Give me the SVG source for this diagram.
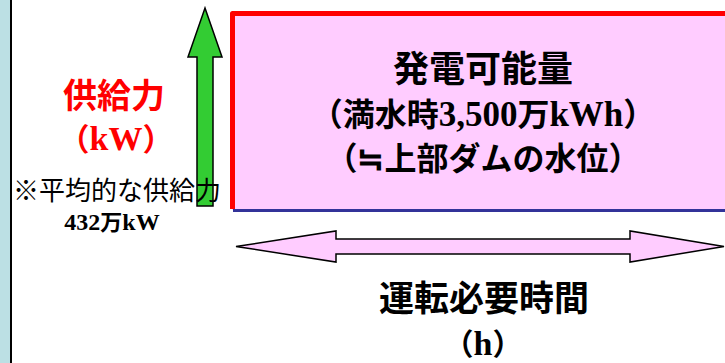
<svg xmlns="http://www.w3.org/2000/svg" width="725" height="363" viewBox="0 0 725 363">
<style>
.g{font-family:"Noto Sans CJK JP","Noto Sans",sans-serif;font-weight:bold}
.s{font-family:"Liberation Serif","Noto Sans CJK JP",serif;font-weight:bold}
.n{font-family:"Noto Sans CJK JP","Noto Sans",sans-serif;font-weight:normal}
.arr{stroke:#000;stroke-width:1.5;stroke-linejoin:miter}
</style>
<rect x="0" y="0" width="725" height="363" fill="#fff"/>
<g id="sidebar">
<rect x="0" y="0" width="10" height="363" fill="#BCE0E4"/>
<line x1="11" y1="0" x2="11" y2="363" stroke="#000" stroke-width="2"/>
</g>
<g id="energy-box">
<rect x="232" y="13" width="500" height="197" fill="#FFCCFF"/>
<path d="M232.5,209 V13.5 H740" fill="none" stroke="#FF0000" stroke-width="5" stroke-linejoin="round"/>
<line x1="233" y1="210.5" x2="725" y2="210.5" stroke="#333399" stroke-width="3"/>
<text class="g" x="483" y="82" font-size="36" text-anchor="middle" fill="#000">発電可能量</text>
<text class="g" x="483" y="126" font-size="32" text-anchor="middle" fill="#000">（満水時<tspan class="s" font-size="35">3,500</tspan>万<tspan class="s" font-size="35">kWh</tspan>）</text>
<text class="g" x="483" y="170" font-size="32" text-anchor="middle" fill="#000">（≒上部ダムの水位）</text>
</g>
<g id="connectors">
<path class="arr" d="M205,8 L222,57 L213,57 L213,206 L197,206 L197,57 L188,57 Z" fill="#33CC33"/>
<path class="arr" d="M236,246.5 L336,231 L336,239 L630,239 L630,231 L724,246.5 L630,262 L630,254 L336,254 L336,262 Z" fill="#FFCCFF"/>
</g>
<g id="supply-label">
<text class="g" x="114" y="108" font-size="34" text-anchor="middle" fill="#FF0000">供給力</text>
<text class="g" x="116" y="150" font-size="31" text-anchor="middle" fill="#FF0000">（<tspan class="s" font-size="34">kW</tspan>）</text>
<text class="n" x="117" y="200" font-size="26" text-anchor="middle" fill="#000">※平均的な供給力</text>
<text class="s" x="112" y="230" font-size="24" text-anchor="middle" fill="#000">432<tspan class="g" font-size="22">万</tspan>kW</text>
</g>
<g id="time-label">
<text class="g" x="484" y="311" font-size="35" text-anchor="middle" fill="#000">運転必要時間</text>
<text class="g" x="483" y="355" font-size="30" text-anchor="middle" fill="#000">（<tspan class="s" font-size="34">h</tspan>）</text>
</g>
</svg>
